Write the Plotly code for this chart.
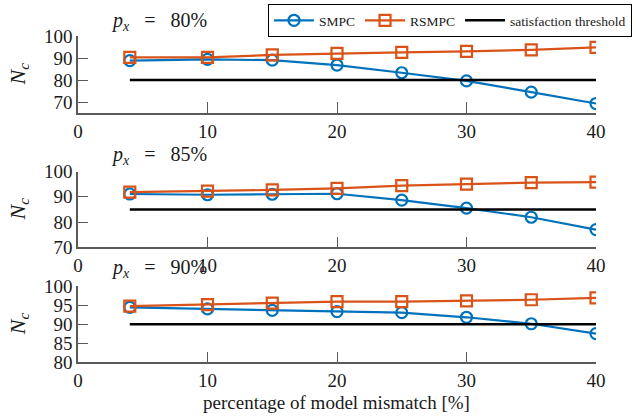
import plotly.graph_objects as go

mismatch = [4, 10, 15, 20, 25, 30, 35, 40]

smpc_80 = [88.8, 89.4, 89.0, 86.8, 83.3, 79.6, 74.5, 69.3]
rsmpc_80 = [90.3, 90.3, 91.4, 92.1, 92.6, 93.0, 93.7, 94.8]
smpc_85 = [91.1, 90.8, 91.0, 91.2, 88.7, 85.5, 81.9, 77.0]
rsmpc_85 = [91.8, 92.2, 92.7, 93.3, 94.4, 95.0, 95.6, 95.8]
smpc_90 = [94.4, 94.0, 93.6, 93.3, 93.0, 91.8, 90.1, 87.5]
rsmpc_90 = [94.7, 95.1, 95.5, 95.9, 95.9, 96.1, 96.4, 96.9]

thresholds = [80, 85, 90]
threshold_x = [4, 40]
titles = ["80%", "85%", "90%"]
y_ranges = [[65, 100], [70, 100], [80, 100]]
y_ticks = [[70, 80, 90, 100], [70, 80, 90, 100], [80, 85, 90, 95, 100]]
x_ticks = [0, 10, 20, 30, 40]

W, H = 636, 418
BLUE = "#0072BD"
ORANGE = "#D95319"
FONT = "'Liberation Serif', 'Times New Roman', Times, serif"
AX = "#5a5a5a"
TXT = "#1a1a1a"

# plot area pixel bounds (top, bottom)
rows_px = [(36, 113), (171.5, 247.3), (286, 362.3)]
x_px = (78, 596)

fig = go.Figure()
smpc = [smpc_80, smpc_85, smpc_90]
rsmpc = [rsmpc_80, rsmpc_85, rsmpc_90]

for i in range(3):
    xa = "x" if i == 0 else f"x{i+1}"
    ya = "y" if i == 0 else f"y{i+1}"
    fig.add_trace(go.Scatter(
        x=mismatch, y=smpc[i], mode="lines+markers", name="SMPC",
        line=dict(color=BLUE, width=2.2),
        marker=dict(symbol="circle-open", size=11, line=dict(width=2.2, color=BLUE)),
        xaxis=xa, yaxis=ya, showlegend=(i == 0)))
    fig.add_trace(go.Scatter(
        x=mismatch, y=rsmpc[i], mode="lines+markers", name="RSMPC",
        line=dict(color=ORANGE, width=2.2),
        marker=dict(symbol="square-open", size=11, line=dict(width=2.2, color=ORANGE)),
        xaxis=xa, yaxis=ya, showlegend=(i == 0)))
    fig.add_trace(go.Scatter(
        x=threshold_x, y=[thresholds[i]] * 2, mode="lines", name="satisfaction threshold",
        line=dict(color="black", width=2.5),
        xaxis=xa, yaxis=ya, showlegend=(i == 0)))

layout = {}
for i in range(3):
    top, bot = rows_px[i]
    xk = "xaxis" if i == 0 else f"xaxis{i+1}"
    yk = "yaxis" if i == 0 else f"yaxis{i+1}"
    ya = "y" if i == 0 else f"y{i+1}"
    xa = "x" if i == 0 else f"x{i+1}"
    layout[xk] = dict(
        domain=[x_px[0] / W, x_px[1] / W], range=[0, 40], anchor=ya, automargin=False,
        tickvals=x_ticks, ticks="inside", ticklen=11, tickcolor=AX, tickwidth=1,
        showline=True, linecolor=AX, linewidth=1.5, showgrid=False, zeroline=False,
        tickfont=dict(family=FONT, size=19, color=TXT))
    layout[yk] = dict(
        domain=[1 - bot / H, 1 - top / H], range=y_ranges[i], anchor=xa, automargin=False,
        tickvals=y_ticks[i], ticks="inside", ticklen=10, tickcolor=AX, tickwidth=1,
        showline=True, linecolor=AX, linewidth=1.5, showgrid=False, zeroline=False,
        tickfont=dict(family=FONT, size=19, color=TXT))

fig.update_layout(**layout)

annotations = []
title_y = [22, 155, 268]
for i in range(3):
    top, bot = rows_px[i]
    annotations.append(dict(
        x=109 / W, y=1 - title_y[i] / H, xref="paper", yref="paper",
        xanchor="left", yanchor="middle", showarrow=False,
        text=f"<i>p</i><sub><i>x</i></sub>&nbsp;&nbsp;&nbsp;=&nbsp;&nbsp;&nbsp;{titles[i]}",
        font=dict(family=FONT, size=20, color=TXT)))
    annotations.append(dict(
        x=19 / W, y=1 - (top + bot) / 2 / H, xref="paper", yref="paper",
        xanchor="center", yanchor="middle", showarrow=False, textangle=-90,
        text="<i>N</i><sub><i>c</i></sub>",
        font=dict(family=FONT, size=22, color=TXT)))
annotations.append(dict(
    x=336 / W, y=1 - 402 / H, xref="paper", yref="paper",
    xanchor="center", yanchor="middle", showarrow=False,
    text="percentage of model mismatch [%]",
    font=dict(family=FONT, size=19, color=TXT)))

fig.update_layout(
    width=W, height=H, margin=dict(l=0, r=0, t=0, b=0, autoexpand=False),
    paper_bgcolor="white", plot_bgcolor="white",
    annotations=annotations,
    legend=dict(orientation="h", x=632 / W, y=1 - 4 / H, xanchor="right", yanchor="top",
                bordercolor="black", borderwidth=1, bgcolor="white",
                font=dict(family=FONT, size=13.5, color=TXT),
                itemwidth=40, tracegroupgap=0),
)

fig.write_html("out.html", config={"displayModeBar": False},
               post_script="document.body.style.margin='0';document.body.style.overflow='hidden';")
